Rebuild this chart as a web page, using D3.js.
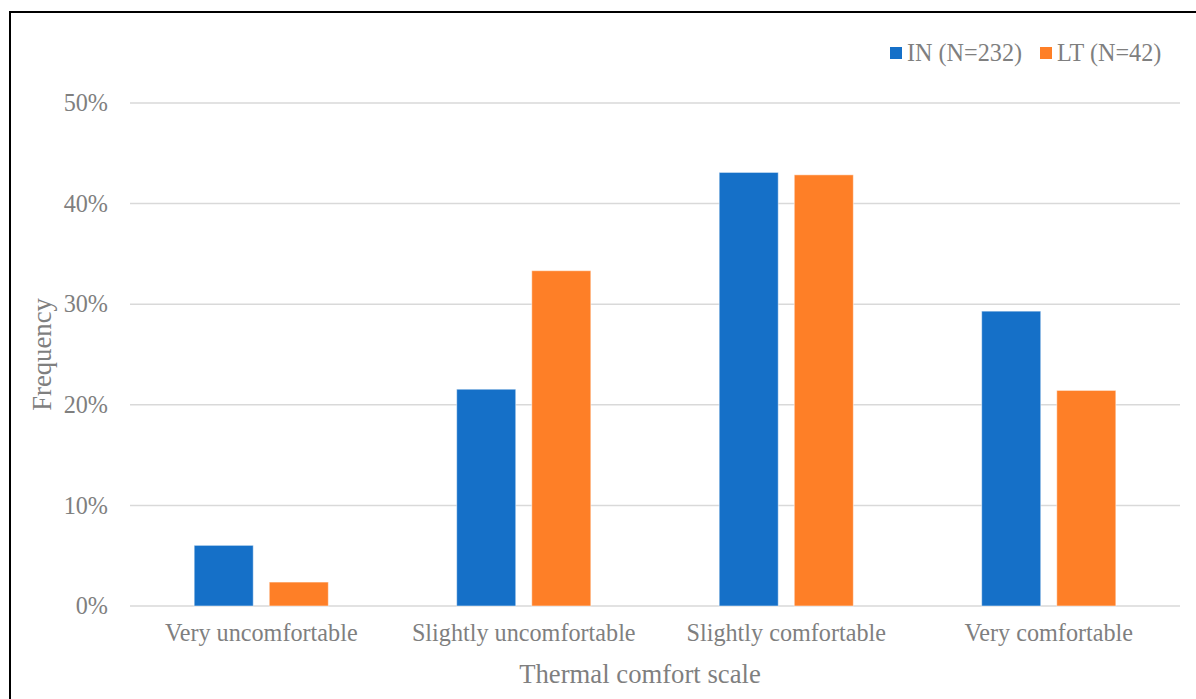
<!DOCTYPE html>
<html>
<head>
<meta charset="utf-8">
<script src="https://cdn.jsdelivr.net/npm/d3@7"></script>
<style>
  html, body { margin: 0; padding: 0; background: #fff; }
  svg { display: block; }
  text { font-family: "Liberation Serif", "Times New Roman", serif; fill: #7f7f7f; }
</style>
</head>
<body>
<svg id="chart" width="1196" height="699"></svg>
<script>
// Thermal comfort responses, share of respondents per group
const categories = ["Very uncomfortable", "Slightly uncomfortable", "Slightly comfortable", "Very comfortable"];
const seriesNames = ["IN (N=232)", "LT (N=42)"];
const inValues = [0.0603, 0.2155, 0.4310, 0.2931];
const ltValues = [0.0238, 0.3333, 0.4286, 0.2143];
const yTicks = [0, 0.1, 0.2, 0.3, 0.4, 0.5];
const colors = ["#1570c8", "#fe7f27"];

const svg = d3.select("#chart");
const W = 1196, H = 699;
const labelSize = 24.2, titleSize = 26.7;
const serif = "Liberation Serif, Times New Roman, serif";

// outer frame
svg.append("rect")
  .attr("x", 10).attr("y", 12)
  .attr("width", W + 20).attr("height", H + 20)
  .attr("fill", "none").attr("stroke", "#000").attr("stroke-width", 2);

const plot = { left: 130, right: 1180, top: 103, bottom: 606 };

const x = d3.scaleBand().domain(categories).range([plot.left, plot.right]);
const y = d3.scaleLinear().domain([0, 0.5]).range([plot.bottom, plot.top]);

// gridlines
svg.append("g").selectAll("line").data(yTicks).join("line")
  .attr("x1", plot.left).attr("x2", plot.right)
  .attr("y1", d => y(d)).attr("y2", d => y(d))
  .attr("stroke", "#d9d9d9").attr("stroke-width", 1.5);

// y axis labels
const yAxis = d3.axisLeft(y).tickValues(yTicks).tickFormat(d3.format(".0%")).tickSize(0).tickPadding(22);
const yg = svg.append("g").attr("transform", `translate(${plot.left},0)`).call(yAxis);
yg.select(".domain").remove();
yg.attr("font-family", serif);
yg.selectAll("text").attr("font-size", labelSize).attr("fill", "#7f7f7f")
  .attr("font-family", serif);

// bars
const bw = x.bandwidth() * 0.225;
const gap = x.bandwidth() * 0.061;
const series = [inValues, ltValues];
series.forEach((vals, si) => {
  svg.append("g").selectAll("rect").data(vals).join("rect")
    .attr("x", (d, i) => x(categories[i]) + x.bandwidth() / 2 - bw - gap / 2 + si * (bw + gap))
    .attr("y", d => y(d))
    .attr("width", bw)
    .attr("height", d => y(0) - y(d))
    .attr("fill", colors[si])
    .attr("stroke", "#ffffff").attr("stroke-opacity", 0.5).attr("stroke-width", 1);
});

// x axis labels
const xAxis = d3.axisBottom(x).tickSize(0).tickPadding(0);
const xg = svg.append("g").attr("transform", `translate(0,${plot.bottom})`).call(xAxis);
xg.select(".domain").remove();
xg.attr("font-family", serif);
xg.selectAll("text").attr("font-size", labelSize).attr("fill", "#7f7f7f")
  .attr("font-family", serif)
  .attr("dy", 0).attr("y", 35);

// axis titles
svg.append("text").attr("x", 640).attr("y", 683)
  .attr("text-anchor", "middle").attr("font-size", titleSize).text("Thermal comfort scale");
svg.append("text")
  .attr("transform", `translate(51,${(plot.top + plot.bottom) / 2}) rotate(-90)`)
  .attr("text-anchor", "middle").attr("font-size", titleSize).text("Frequency");

// legend
const legendX = [890, 1040];
seriesNames.forEach((name, i) => {
  svg.append("rect").attr("x", legendX[i]).attr("y", 47).attr("width", 12).attr("height", 12).attr("fill", colors[i]);
  svg.append("text").attr("x", legendX[i] + 17).attr("y", 61).attr("font-size", labelSize).text(name);
});
</script>
</body>
</html>
